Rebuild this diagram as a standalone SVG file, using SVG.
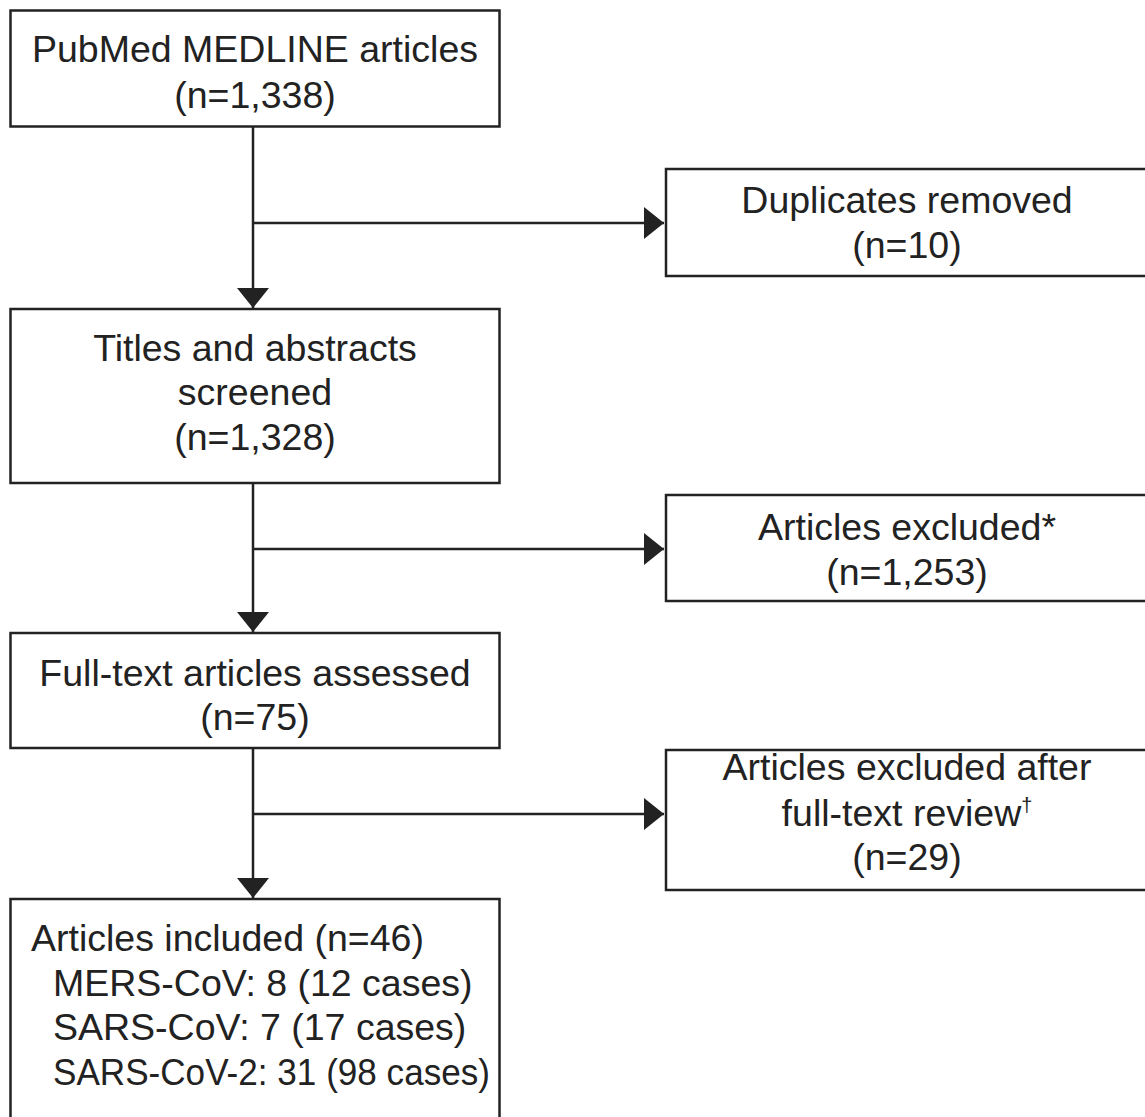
<svg xmlns="http://www.w3.org/2000/svg" width="1145" height="1117" viewBox="0 0 1145 1117">
<style>
.box{fill:#fff;stroke:#222;stroke-width:2.5}
.t{font-family:"Liberation Sans",Arial,sans-serif;font-size:37.5px;fill:#222}
.c{text-anchor:middle}
.ln{stroke:#222;stroke-width:2.5;fill:none}
.sup{font-size:20px}
</style>
<defs>
<marker id="ah" markerUnits="userSpaceOnUse" markerWidth="22" markerHeight="34" refX="20" refY="16" orient="auto">
<path d="M0,0 L20,16 L0,32 Z" fill="#222"/>
</marker>
</defs>
<rect width="1145" height="1117" fill="#fff"/>
<g id="connectors">
<line class="ln" x1="253" y1="127" x2="253" y2="308" marker-end="url(#ah)"/>
<line class="ln" x1="253" y1="223" x2="664" y2="223" marker-end="url(#ah)"/>
<line class="ln" x1="253" y1="483" x2="253" y2="632" marker-end="url(#ah)"/>
<line class="ln" x1="253" y1="549" x2="664" y2="549" marker-end="url(#ah)"/>
<line class="ln" x1="253" y1="748" x2="253" y2="898" marker-end="url(#ah)"/>
<line class="ln" x1="253" y1="814" x2="664" y2="814" marker-end="url(#ah)"/>
</g>
<g id="n1">
<rect class="box" x="10.5" y="10.5" width="489" height="116"/>
<text class="t c" x="255" y="62">PubMed MEDLINE articles</text>
<text class="t c" x="255" y="108">(n=1,338)</text>
</g>
<g id="n2">
<rect class="box" x="666" y="169" width="500" height="107"/>
<text class="t c" x="907" y="213">Duplicates removed</text>
<text class="t c" x="907" y="258">(n=10)</text>
</g>
<g id="n3">
<rect class="box" x="10.5" y="309" width="489" height="174"/>
<text class="t c" x="255" y="361">Titles and abstracts</text>
<text class="t c" x="255" y="405">screened</text>
<text class="t c" x="255" y="450">(n=1,328)</text>
</g>
<g id="n4">
<rect class="box" x="666" y="495" width="500" height="106"/>
<text class="t c" x="907" y="540">Articles excluded*</text>
<text class="t c" x="907" y="585">(n=1,253)</text>
</g>
<g id="n5">
<rect class="box" x="10.5" y="633" width="489" height="115"/>
<text class="t c" x="255" y="686">Full-text articles assessed</text>
<text class="t c" x="255" y="730">(n=75)</text>
</g>
<g id="n6">
<rect class="box" x="666" y="750" width="500" height="140"/>
<text class="t c" x="907" y="780">Articles excluded after</text>
<text class="t c" x="907" y="826">full-text review<tspan class="sup" dy="-14">†</tspan></text>
<text class="t c" x="907" y="870">(n=29)</text>
</g>
<g id="n7">
<rect class="box" x="10.5" y="899" width="489" height="260"/>
<text class="t" x="31" y="951">Articles included (n=46)</text>
<text class="t" x="53" y="996">MERS-CoV: 8 (12 cases)</text>
<text class="t" x="53" y="1040">SARS-CoV: 7 (17 cases)</text>
<text class="t" x="53" y="1085" textLength="437" lengthAdjust="spacingAndGlyphs">SARS-CoV-2: 31 (98 cases)</text>
</g>
</svg>
